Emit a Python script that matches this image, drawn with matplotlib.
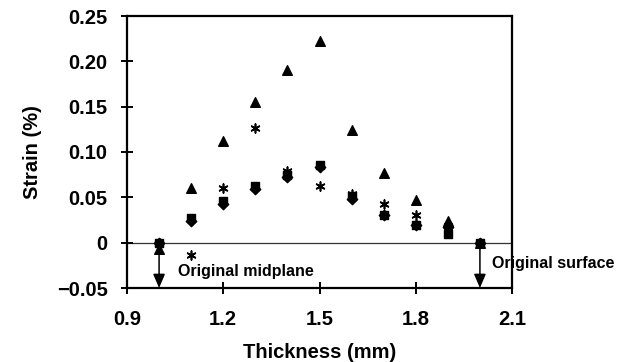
import matplotlib
matplotlib.use("Agg")
import matplotlib.pyplot as plt

# thickness positions (mm)
thickness = [1.0, 1.1, 1.2, 1.3, 1.4, 1.5, 1.6, 1.7, 1.8, 1.9, 2.0]

# strain (%) for each measurement series
strain_tri = [-0.007, 0.060, 0.112, 0.155, 0.190, 0.222, 0.124, 0.077, 0.047, 0.024, 0.0]
strain_star = [0.0, -0.014, 0.060, 0.127, 0.079, 0.063, 0.054, 0.043, 0.031, 0.018, 0.0]
strain_sq = [0.0, 0.027, 0.046, 0.062, 0.075, 0.086, 0.051, 0.031, 0.019, 0.010, 0.0]
strain_dia = [0.0, 0.024, 0.043, 0.059, 0.072, 0.083, 0.048, 0.031, 0.019, 0.017, 0.0]

xticks = [0.9, 1.2, 1.5, 1.8, 2.1]
xtick_labels = ["0.9", "1.2", "1.5", "1.8", "2.1"]
yticks = [-0.05, 0, 0.05, 0.10, 0.15, 0.20, 0.25]
ytick_labels = ["\u22120.05", "0", "0.05", "0.10", "0.15", "0.20", "0.25"]

plt.rcParams["font.family"] = ["Liberation Sans", "DejaVu Sans"]

fig = plt.figure(figsize=(6.24, 3.62), dpi=100)
ax = fig.add_axes([127 / 624, 1 - 288 / 362, 385 / 624, 272 / 362])

ax.axhline(0, color="#333333", linewidth=0.9, zorder=1)

ax.scatter(thickness, strain_dia, marker="D", s=28, color="black", zorder=3)
ax.scatter(thickness, strain_sq, marker="s", s=40, color="black", zorder=3)
ax.scatter(thickness, strain_tri, marker="^", s=48, color="black", zorder=3)
ax.scatter(thickness, strain_star, marker=(6, 2, 0), s=40, color="black",
           linewidths=1.2, zorder=3)

# midplane / surface annotations
arrow = dict(arrowstyle="-|>,head_length=0.7,head_width=0.3", color="black",
             lw=1.1, mutation_scale=12, shrinkA=0, shrinkB=0)
ax.annotate("", xy=(1.0, -0.05), xytext=(1.0, -0.009), arrowprops=arrow)
ax.text(1.059, -0.032, "Original midplane", fontsize=11.5, fontweight="bold",
        va="center", ha="left")
ax.annotate("", xy=(2.0, -0.05), xytext=(2.0, -0.004), arrowprops=arrow)
ax.text(2.038, -0.023, "Original surface", fontsize=11.5, fontweight="bold",
        va="center", ha="left", clip_on=False)

ax.set_xlim(0.9, 2.1)
ax.set_ylim(-0.05, 0.25)
ax.set_xticks(xticks)
ax.set_xticklabels(xtick_labels)
ax.set_yticks(yticks)
ax.set_yticklabels(ytick_labels)

for side in ["left", "bottom", "top", "right"]:
    ax.spines[side].set_linewidth(1.6)

ax.tick_params(axis="both", direction="inout", length=9, width=1.4,
               labelsize=14.5)
ax.tick_params(axis="x", pad=11.5)
ax.tick_params(axis="y", pad=9.5)
for lab in ax.get_xticklabels() + ax.get_yticklabels():
    lab.set_fontweight("bold")

ax.set_xlabel("Thickness (mm)", fontsize=14.5, fontweight="bold", labelpad=10)
ax.set_ylabel("Strain (%)", fontsize=14.5, fontweight="bold", labelpad=10.5)

fig.savefig("out.png", dpi=100)
